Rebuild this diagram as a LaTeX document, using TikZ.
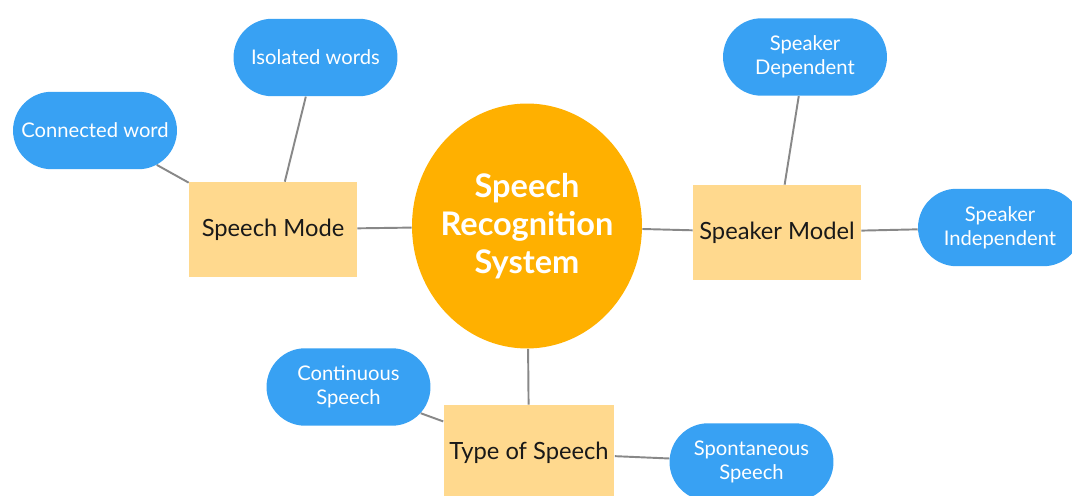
\documentclass[tikz,border=0pt]{standalone}
\usepackage{fontspec}
\setmainfont{Lato}
\usetikzlibrary{shapes.geometric,shapes.misc,backgrounds}
\definecolor{hubcolor}{RGB}{255,176,0}
\definecolor{boxcolor}{RGB}{255,217,142}
\definecolor{leafcolor}{RGB}{56,161,243}
\definecolor{linkcolor}{RGB}{136,136,136}
\begin{document}
\begin{tikzpicture}[x=0.02cm, y=-0.02cm,
  hub/.style={ellipse, fill=hubcolor, minimum width=4.6cm, minimum height=4.9cm, inner xsep=-3pt, inner ysep=0pt,
    text=white, align=center, font=\fontsize{18.5}{21.5}\selectfont\bfseries},
  group/.style={rectangle, fill=boxcolor, minimum width=3.36cm, minimum height=1.9cm,
    text=black!90, font=\fontsize{13.5}{16}\selectfont},
  leaf/.style={rounded rectangle, fill=leafcolor, minimum width=3.42cm, minimum height=1.55cm, inner sep=2pt,
    text=white, align=center, font=\fontsize{11.5}{13.6}\selectfont},
  link/.style={draw=linkcolor, line width=1.1pt}]
\useasboundingbox (0,0) rectangle (1072,496);
% Centre and the three groups
\node[hub] (srs) at (527,226) {Speech\\Recognition\\System};
\node[group] (mode) at (273,229.5) {Speech Mode};
\node[group] (model) at (777,232.5) {Speaker Model};
\node[group] (type) at (529,452.5) {Type of Speech};
% Leaves
\node[leaf] (isolated) at (315.5,57.5) {Isolated words};
\node[leaf] (connected) at (95,130.5) {Connected word};
\node[leaf] (dependent) at (805,57) {Speaker\\Dependent};
\node[leaf] (independent) at (1000,227.5) {Speaker\\Independent};
\node[leaf] (continuous) at (348.5,387) {Continuous\\Speech};
\node[leaf] (spontaneous) at (751.5,462) {Spontaneous\\Speech};
% Links (behind the nodes)
\begin{scope}[on background layer]
\draw[link] (mode) -- (srs);
\draw[link] (srs) -- (model);
\draw[link] (srs) -- (type);
\draw[link] (isolated) -- (mode);
\draw[link] (connected) -- (mode);
\draw[link] (dependent) -- (model);
\draw[link] (model) -- (independent);
\draw[link] (continuous) -- (type);
\draw[link] (type) -- (spontaneous);
\end{scope}
\end{tikzpicture}
\end{document}
